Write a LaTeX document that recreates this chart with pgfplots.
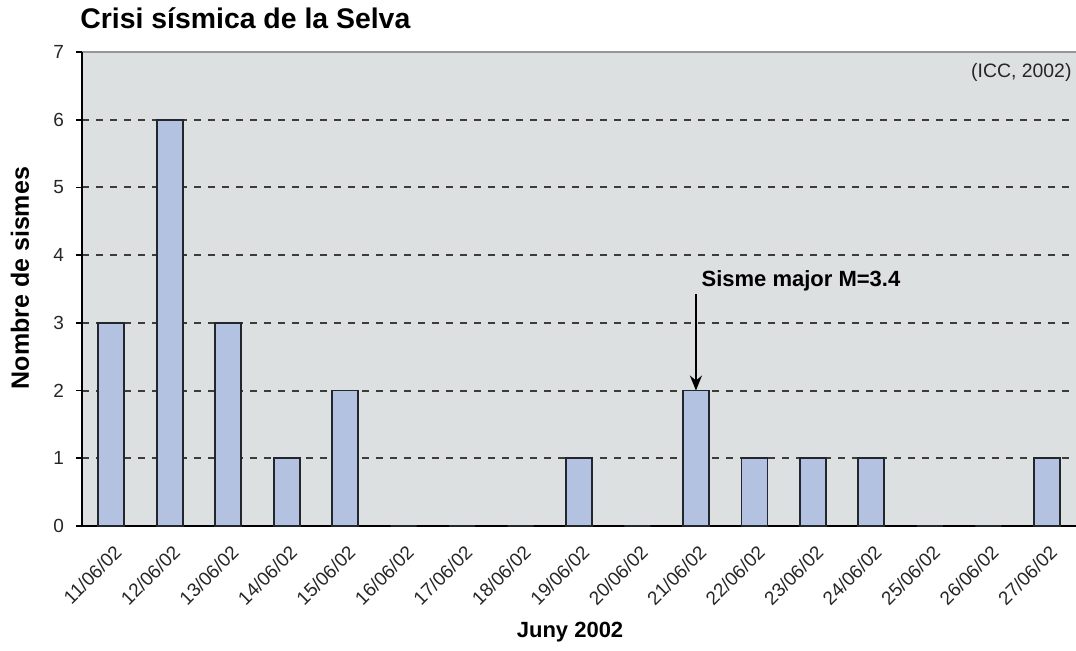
\documentclass[border=0pt]{standalone}
\usepackage{pgfplots}
\pgfplotsset{compat=1.18}
\usetikzlibrary{arrows.meta}
\usepackage{fontspec}
\setmainfont{Liberation Sans}
\definecolor{bgray}{RGB}{221,224,225}
\definecolor{barfill}{RGB}{178,194,224}
\definecolor{baredge}{RGB}{35,38,45}
\definecolor{gridc}{RGB}{60,60,60}
\definecolor{topc}{RGB}{150,150,150}
\begin{document}
\begin{tikzpicture}
\useasboundingbox (-41pt,-62.5pt) rectangle (497pt,263pt);
\begin{axis}[
  at={(0,0)}, anchor=south west,
  scale only axis, width=497pt, height=237pt,
  xmin=-0.5, xmax=16.5, ymin=0, ymax=7,
  axis x line*=bottom, axis y line*=left,
  axis line style={line width=1pt, black},
  axis background/.style={fill=bgray},
  /pgf/number format/assume math mode=true,
  ytick={0,...,7},
  xtick={0,...,16},
  xticklabels={11/06/02,12/06/02,13/06/02,14/06/02,15/06/02,16/06/02,17/06/02,18/06/02,19/06/02,20/06/02,21/06/02,22/06/02,23/06/02,24/06/02,25/06/02,26/06/02,27/06/02},
  xtick style={draw=none},
  minor xtick={-0.5,0.5,...,16.5},
  minor x tick style={black, line width=0.8pt},
  minor tick length=2.5pt,
  ytick style={black, line width=0.8pt},
  major tick length=3pt,
  tick align=outside,
  ymajorgrids,
  major grid style={gridc, line width=1pt, dash pattern=on 3.5pt off 3.5pt},
  ticklabel style={font=\fontsize{9.5}{11}\selectfont, text=black!85},
  yticklabel style={xshift=-2.5pt},
  xticklabel style={rotate=45, anchor=east, inner sep=0pt, xshift=-3.5pt, yshift=-8.5pt},
  xlabel={Juny 2002},
  ylabel={Nombre de sismes},
  xlabel style={font=\bfseries\fontsize{11}{12}\selectfont, at={(axis description cs:0.491,0)}, anchor=center, yshift=-53pt},
  ylabel style={font=\bfseries\fontsize{12.5}{13}\selectfont, at={(axis description cs:-0.0624,0.523)}, anchor=center},
  clip=false,
]
\addplot[ybar, bar width=13pt, fill=barfill, draw=baredge, line width=0.9pt]
  coordinates {(0,3) (1,6) (2,3) (3,1) (4,2) (5,0) (6,0) (7,0) (8,1) (9,0) (10,2) (11,1) (12,1) (13,1) (14,0) (15,0) (16,1)};
\draw[topc, line width=1pt] (rel axis cs:0,1) -- (rel axis cs:1,1);
\draw[black, line width=1pt] (rel axis cs:0,0) -- (rel axis cs:0,1);
\draw[-{Stealth[length=7.5pt,width=6pt]}, line width=1pt, black] (axis cs:10,3.42) -- (axis cs:10,2.0);
\node[anchor=base west, font=\bfseries\fontsize{11}{12}\selectfont, inner sep=0pt] at (axis cs:10.09,3.53) {Sisme major M=3.4};
\node[anchor=base east, font=\fontsize{9.7}{11}\selectfont, text=black!85, inner sep=0pt] at (axis cs:16.43,6.62) {(ICC, 2002)};
\node[anchor=base west, font=\bfseries\fontsize{14.2}{16}\selectfont, inner sep=0pt] at ([xshift=-1pt,yshift=12pt]rel axis cs:0,1) {Crisi sísmica de la Selva};
\end{axis}
\end{tikzpicture}
\end{document}
